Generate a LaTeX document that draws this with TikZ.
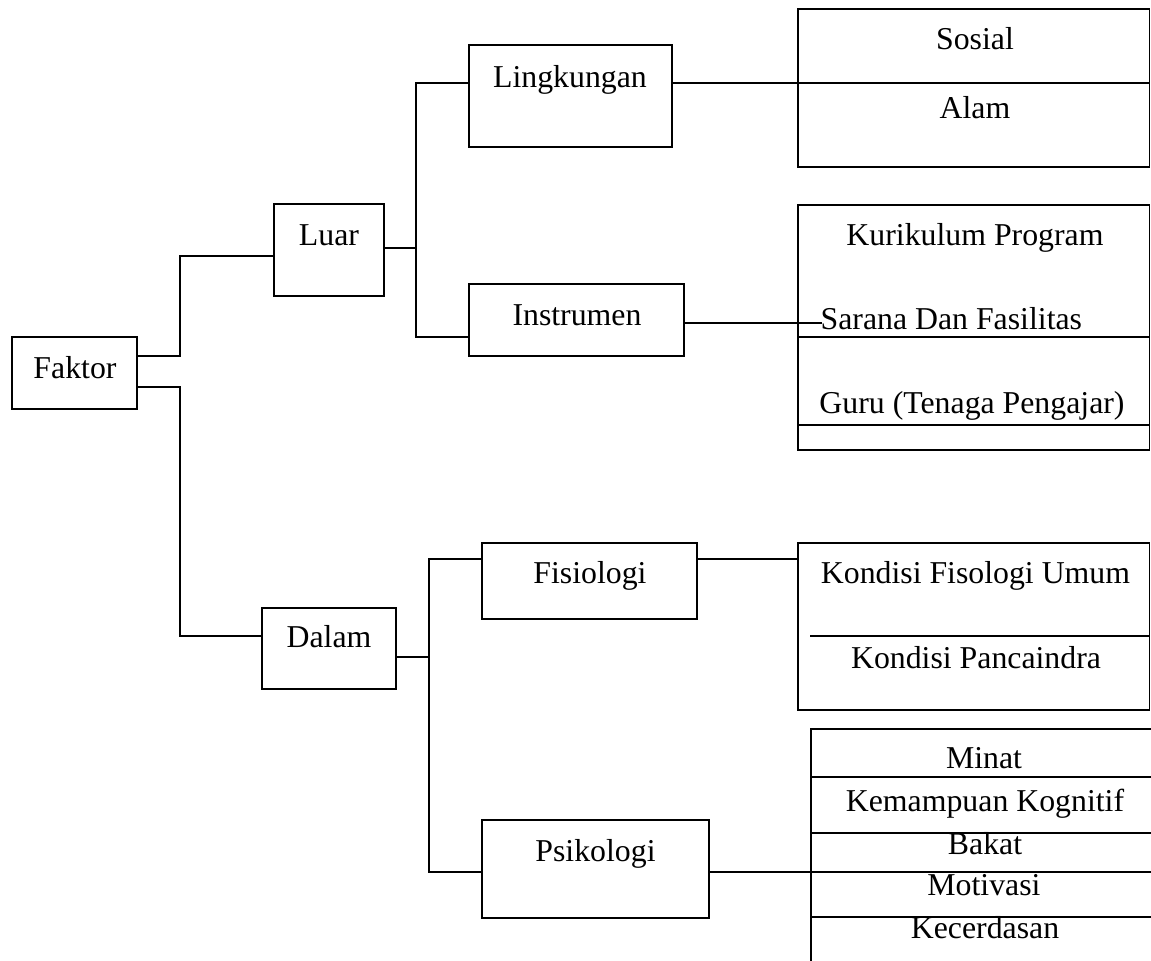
\documentclass[tikz,border=0pt]{standalone}
\usepackage{fontspec}
\setmainfont{Liberation Serif}
\begin{document}
\begin{tikzpicture}[x=0.5pt,y=-0.5pt,
  line width=0.65pt,
  box/.style={draw,rectangle,inner sep=0pt,line width=0.65pt},
  lbl/.style={anchor=base,inner sep=0pt,font=\fontsize{15.9}{19}\selectfont},
  conn/.style={line width=0.65pt}]
\useasboundingbox (0,0) rectangle (1151,960);
% level boxes
\node[box,minimum width=62.5pt,minimum height=36pt] (faktor) at (74.5,373) {};
\node[box,minimum width=55pt,minimum height=46pt] (luar) at (329,250) {};
\node[box,minimum width=67pt,minimum height=40.5pt] (dalam) at (329,648.5) {};
\node[box,minimum width=101.5pt,minimum height=51pt] (lingkungan) at (570.5,96) {};
\node[box,minimum width=107.5pt,minimum height=36pt] (instrumen) at (576.5,320) {};
\node[box,minimum width=107.5pt,minimum height=38pt] (fisiologi) at (589.5,581) {};
\node[box,minimum width=113.5pt,minimum height=49pt] (psikologi) at (595.5,869) {};
% right boxes
\node[box,minimum width=175.75pt,minimum height=79pt] (lingbox) at (973.75,88) {};
\node[box,minimum width=175.75pt,minimum height=122.5pt] (instbox) at (973.75,327.5) {};
\node[box,minimum width=175.75pt,minimum height=83.5pt] (fisbox) at (973.75,626.5) {};
\coordinate (psitop) at (811,729);
\coordinate (psibot) at (811,962);
\coordinate (psiright) at (1152,729);
% dividers
\draw (lingbox.west |- 0,83) -- (lingbox.east |- 0,83);
\draw (instbox.west |- 0,337) -- (instbox.east |- 0,337);
\draw (instbox.west |- 0,425) -- (instbox.east |- 0,425);
\draw (810,636) -- (fisbox.east |- 0,636);
\draw (psibot) -- (psitop) -- (psiright);
\foreach \yy in {777,833,917} \draw (psitop |- 0,\yy) -- (psiright |- 0,\yy);
% connectors
\draw[conn] (faktor.east |- 0,356) -- (180,356) -- (180,256) -- (luar.west |- 0,256);
\draw[conn] (faktor.east |- 0,387) -- (180,387) -- (180,636) -- (dalam.west |- 0,636);
\draw[conn] (luar.east |- 0,248) -- (416,248);
\draw[conn] (lingkungan.west |- 0,83) -- (416,83) -- (416,337) -- (instrumen.west |- 0,337);
\draw[conn] (lingkungan.east |- 0,83) -- (lingbox.west |- 0,83);
\draw[conn] (instrumen.east |- 0,323) -- (822,323);
\draw[conn] (dalam.east |- 0,657) -- (429,657);
\draw[conn] (fisiologi.west |- 0,559) -- (429,559) -- (429,872) -- (psikologi.west |- 0,872);
\draw[conn] (fisiologi.east |- 0,559) -- (fisbox.west |- 0,559);
\draw[conn] (psikologi.east |- 0,872) -- (psiright |- 0,872);
% labels
\node[lbl] (tfaktor) at (75,378) {Faktor};
\node[lbl] (tluar) at (329,245) {Luar};
\node[lbl] (tdalam) at (329,647) {Dalam};
\node[lbl] (tling) at (570,87) {Lingkungan};
\node[lbl] (tinst) at (577,325) {Instrumen};
\node[lbl] (tfis) at (590,583) {Fisiologi};
\node[lbl] (tpsi) at (595.5,861) {Psikologi};
\node[lbl] (tsosial) at (975,49) {Sosial};
\node[lbl] (talam) at (975,118) {Alam};
\node[lbl] (tkur) at (975,245) {Kurikulum Program};
\node[lbl,anchor=base west] (tsarana) at (820,329) {Sarana Dan Fasilitas};
\node[lbl] (tguru) at (972,413) {Guru (Tenaga Pengajar)};
\node[lbl] (tkfu) at (975.5,583) {Kondisi Fisologi Umum};
\node[lbl] (tkp) at (976,668) {Kondisi Pancaindra};
\node[lbl] (tminat) at (984,768) {Minat};
\node[lbl] (tkk) at (985,811) {Kemampuan Kognitif};
\node[lbl] (tbakat) at (985,854) {Bakat};
\node[lbl] (tmot) at (984,895) {Motivasi};
\node[lbl] (tkec) at (985,938) {Kecerdasan};
\end{tikzpicture}
\end{document}
